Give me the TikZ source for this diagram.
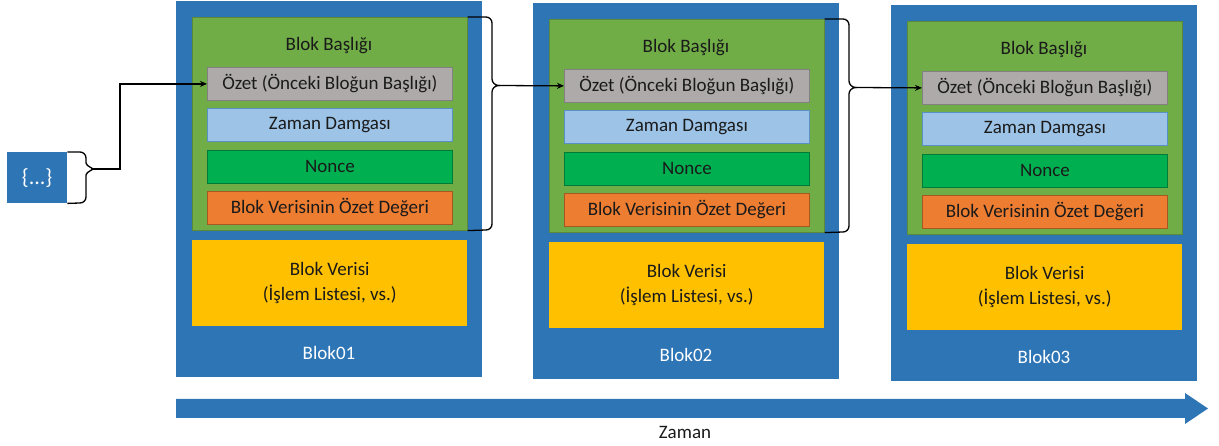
\documentclass[tikz,border=0pt]{standalone}
\usepackage{fontspec}
\setmainfont{Carlito}
\usetikzlibrary{arrows.meta}
\definecolor{outerblue}{HTML}{2E75B6}
\definecolor{hdrgreen}{HTML}{70AD47}
\definecolor{graybox}{HTML}{AEAAAA}
\definecolor{lblue}{HTML}{9DC3E6}
\definecolor{ngreen}{HTML}{00B050}
\definecolor{orangebox}{HTML}{ED7D31}
\definecolor{yellowbox}{HTML}{FFC000}
\definecolor{txt}{HTML}{1A1A1A}
\tikzset{
  outer/.style={fill=outerblue,draw=none,anchor=north west,inner sep=0pt,minimum width=306pt,minimum height=376pt},
  hdr/.style={fill=hdrgreen,draw=hdrgreen!80!black,line width=0.6pt,anchor=north west,inner sep=0pt,minimum width=275pt,minimum height=213pt},
  item/.style={anchor=north west,inner sep=0pt,minimum width=245pt,minimum height=33pt,font=\fontsize{19}{22}\selectfont,text=txt,line width=0.8pt},
  ozet/.style={item,fill=graybox,draw=graybox!75!black},
  zaman/.style={item,fill=lblue,draw=outerblue!80},
  nonce/.style={item,fill=ngreen,draw=ngreen!70!black},
  hashv/.style={item,fill=orangebox,draw=orangebox!70!black},
  data/.style={fill=yellowbox,draw=none,anchor=north west,inner sep=0pt,minimum width=275pt,minimum height=86pt,align=center,font=\fontsize{19}{25}\selectfont,text=txt},
  lbl/.style={font=\fontsize{19}{22}\selectfont,text=txt},
  wlbl/.style={font=\fontsize{19}{22}\selectfont,text=white},
  brace/.style={draw=black,line width=1.3pt},
  link/.style={draw=black,line width=1.3pt,-{Stealth[length=7pt,width=6pt]}}
}
\newcommand\drawblock[4]{%
  \node[outer] (B#3) at (#1,#2) {};
  \node[hdr] (H#3) at (#1+16,#2+16) {};
  \node[lbl] (HT#3) at (#1+153,#2+45) {Blok Başlığı};
  \node[ozet] (O#3) at (#1+31,#2+66) {Özet (Önceki Bloğun Başlığı)};
  \node[zaman] (Z#3) at (#1+31,#2+107) {Zaman Damgası};
  \node[nonce] (N#3) at (#1+31,#2+149) {Nonce};
  \node[hashv] (V#3) at (#1+31,#2+190) {Blok Verisinin Özet Değeri};
  \node[data] (D#3) at (#1+16,#2+239) {Blok Verisi\\(İşlem Listesi, vs.)};
  \node[wlbl] (L#3) at (#1+153,#2+352) {#4};
}
\begin{document}
\begin{tikzpicture}[x=1pt,y=-1pt]
\useasboundingbox (0,0) rectangle (1219,446);
\drawblock{176}{1}{1}{Blok01}
\drawblock{533}{3}{2}{Blok02}
\drawblock{891}{5}{3}{Blok03}
% genesis data box
\node[fill=outerblue,anchor=north west,inner sep=0pt,minimum width=60pt,minimum height=51pt,text=white,font=\fontsize{22}{24}\selectfont] (G) at (7,152) {\{...\}};
% brace on genesis box
\draw[brace] (G.north east) -- (80,152) to[out=0,in=90] (86,158) -- (86,163) to[out=-90,in=0] (92,169) to[out=0,in=90] (86,175) -- (86,197) to[out=-90,in=0] (80,203) -- (G.south east);
\coordinate (T0) at (92,169);
\coordinate (K0) at (120,169);
\draw[link] (T0) -- (K0) |- (O1.west);
% brace block1 header
\draw[brace] (H1.north east) -- (486,17) to[out=0,in=90] (492,23) -- (492,79) to[out=-90,in=180] (499,85.5) to[out=180,in=90] (492,92) -- (492,224) to[out=-90,in=0] (486,230) -- (H1.south east);
\coordinate (T1) at (499,85.5);
\draw[link] (T1) -- (O2.west);
% brace block2 header
\draw[brace] (H2.north east) -- (843,19) to[out=0,in=90] (849,25) -- (849,81) to[out=-90,in=180] (856,87.5) to[out=180,in=90] (849,94) -- (849,226) to[out=-90,in=0] (843,232) -- (H2.south east);
\coordinate (T2) at (856,87.5);
\draw[link] (T2) -- (O3.west);
% time arrow
\fill[outerblue] (176,399) -- (1185,399) -- (1185,393) -- (1208,408.5) -- (1185,424) -- (1185,418) -- (176,418) -- cycle;
\node[lbl] (TZ) at (685,432) {Zaman};
\end{tikzpicture}
\end{document}
